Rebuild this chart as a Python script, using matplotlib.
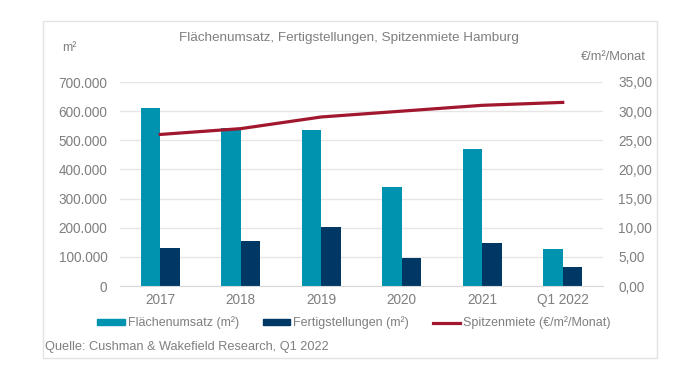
import numpy as np
import matplotlib
matplotlib.use("Agg")
import matplotlib.pyplot as plt
from matplotlib.patches import Rectangle, Patch
from matplotlib.lines import Line2D
from matplotlib.ticker import FuncFormatter

plt.rcParams['font.family'] = ['Liberation Sans', 'DejaVu Sans']

categories = ['2017', '2018', '2019', '2020', '2021', 'Q1 2022']
flaechenumsatz = [611000, 541000, 536000, 341000, 471000, 128000]
fertigstellungen = [130000, 153000, 202000, 96000, 147000, 65000]
spitzenmiete = [26.0, 27.0, 29.0, 30.0, 31.0, 31.5]

c_light = '#0093b0'
c_dark = '#003865'
c_red = '#a0172e'
c_text = '#7f7f7f'
c_grid = '#e6e6e6'

fig = plt.figure(figsize=(7, 3.71), dpi=100)
fig.patches.append(Rectangle((43 / 700, 1 - 358 / 371), 614 / 700, 337 / 371,
                             transform=fig.transFigure, fill=False,
                             edgecolor='#e3e3e3', linewidth=1))

ax = fig.add_axes([120 / 700, 1 - 286 / 371, 483 / 700, 204 / 371])
x = np.arange(len(categories))
w = 0.24
ax.bar(x - w / 2, flaechenumsatz, w, color=c_light, zorder=2)
ax.bar(x + w / 2, fertigstellungen, w, color=c_dark, zorder=2)
ax.set_xlim(-0.5, len(categories) - 0.5)
ax.set_ylim(0, 700000)
ax.set_yticks(np.arange(0, 700001, 100000))
ax.yaxis.set_major_formatter(FuncFormatter(lambda v, p: f'{int(v):,}'.replace(',', '.')))
ax.set_xticks(x)
ax.set_xticklabels(categories)
ax.grid(axis='y', color=c_grid, linewidth=1, zorder=0)
for s in ax.spines.values():
    s.set_visible(False)
ax.spines['bottom'].set_visible(True)
ax.spines['bottom'].set_color('#d9d9d9')
ax.tick_params(length=0, colors=c_text, labelsize=9.8)
ax.tick_params(axis='y', pad=9)
ax.tick_params(axis='x', pad=5)

ax2 = ax.twinx()
ax2.plot(x, spitzenmiete, color=c_red, linewidth=2.3, zorder=3)
ax2.set_ylim(0, 35)
ax2.set_yticks(np.arange(0, 36, 5))
ax2.yaxis.set_major_formatter(FuncFormatter(lambda v, p: f'{v:.2f}'.replace('.', ',')))
for s in ax2.spines.values():
    s.set_visible(False)
ax2.tick_params(length=0, colors=c_text, labelsize=9.8, pad=11)

fig.text(349 / 700, 1 - 38 / 371, 'Flächenumsatz, Fertigstellungen, Spitzenmiete Hamburg',
         ha='center', va='center', color=c_text, fontsize=9.7)
fig.text(62 / 700, 1 - 48 / 371, 'm²', ha='left', va='center', color=c_text, fontsize=9)
fig.text(646 / 700, 1 - 57 / 371, '€/m²/Monat', ha='right', va='center', color=c_text, fontsize=9.3)
fig.text(45 / 700, 1 - 347 / 371, 'Quelle: Cushman & Wakefield Research, Q1 2022',
         ha='left', va='center', color=c_text, fontsize=9.2)

handles = [Patch(color=c_light), Patch(color=c_dark), Line2D([], [], color=c_red, linewidth=2.3)]
labels = ['Flächenumsatz (m²)', 'Fertigstellungen (m²)', 'Spitzenmiete (€/m²/Monat)']
leg = fig.legend(handles, labels, loc='center', bbox_to_anchor=(354 / 700, 1 - 323 / 371),
                 ncol=3, frameon=False, fontsize=9, handlelength=2.2, handleheight=0.4,
                 handletextpad=0.25, columnspacing=1.9)
for t in leg.get_texts():
    t.set_color(c_text)

fig.savefig('out.png', dpi=100)
